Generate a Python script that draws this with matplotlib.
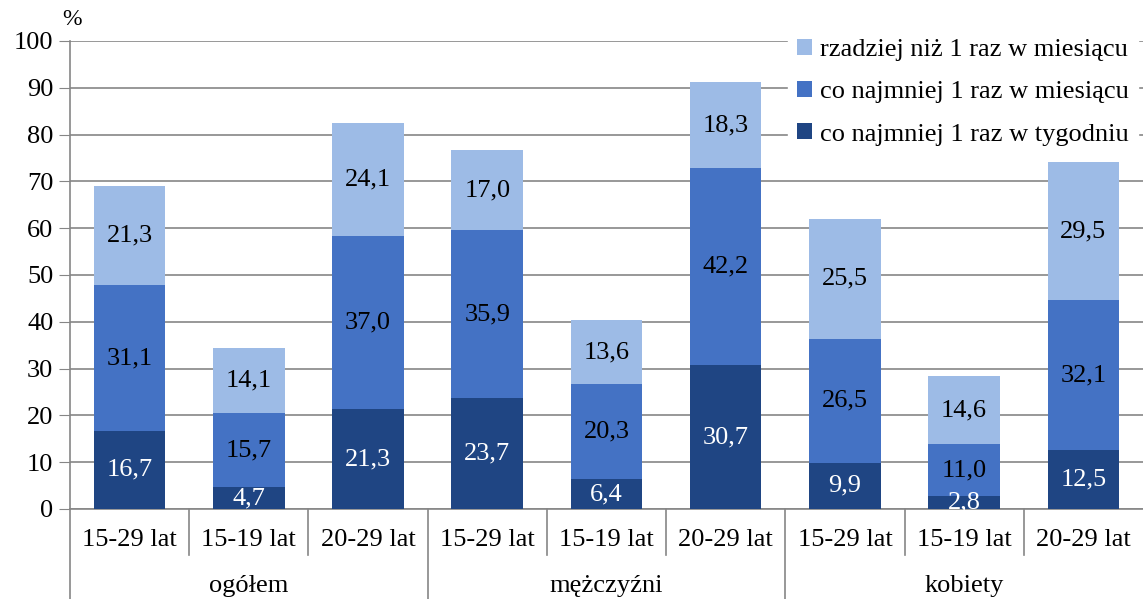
import numpy as np
from matplotlib import pyplot as plt
from matplotlib.transforms import blended_transform_factory

plt.rcParams['font.family'] = ['Liberation Serif', 'DejaVu Serif']

groups = ['ogółem', 'mężczyźni', 'kobiety']
ages = ['15-29 lat', '15-19 lat', '20-29 lat']
weekly = [16.7, 4.7, 21.3, 23.7, 6.4, 30.7, 9.9, 2.8, 12.5]
monthly = [31.1, 15.7, 37.0, 35.9, 20.3, 42.2, 26.5, 11.0, 32.1]
rarely = [21.3, 14.1, 24.1, 17.0, 13.6, 18.3, 25.5, 14.6, 29.5]
series_names = ['co najmniej 1 raz w tygodniu', 'co najmniej 1 raz w miesiącu',
                'rzadziej niż 1 raz w miesiącu']
colors = ['#1f4583', '#4472c4', '#9dbbe6']
label_colors = ['white', 'black', 'black']

fig = plt.figure(figsize=(11.43, 5.99), dpi=100)
ax = fig.add_axes([0.0612, 0.1503, 0.9388, 0.7813])

x = np.arange(9)
bottom = np.zeros(9)
bars = []
for vals, col, lc, name in zip([weekly, monthly, rarely], colors, label_colors, series_names):
    b = ax.bar(x, vals, 0.6, bottom=bottom, color=col, label=name, zorder=3)
    bars.append(b)
    for xi, v, bt in zip(x, vals, bottom):
        ax.text(xi, bt + v / 2, f'{v:.1f}'.replace('.', ','), ha='center', va='center',
                color=lc, fontsize=19, zorder=4)
    bottom = bottom + np.array(vals)

ax.set_xlim(-0.5, 8.5)
ax.set_ylim(0, 100)
ax.set_yticks(range(0, 101, 10))
ax.tick_params(axis='y', labelsize=19, length=8, color='#868686', pad=4)
ax.yaxis.grid(True, color='#868686', linewidth=1.2, zorder=0)
ax.set_xticks([])
for s in ['top', 'right']:
    ax.spines[s].set_visible(False)
ax.spines['left'].set_color('#868686')
ax.spines['bottom'].set_color('#868686')
ax.spines['left'].set_linewidth(1.2)
ax.spines['bottom'].set_linewidth(1.2)

tr = blended_transform_factory(ax.transData, ax.transAxes)
for k in range(9):
    xs = -0.5 + k
    y_end = -0.192 if k % 3 == 0 else -0.098
    ax.plot([xs, xs], [0, y_end], transform=tr, color='#868686', lw=1.2, clip_on=False)
for i in range(9):
    ax.text(i, -0.066, ages[i % 3], transform=tr, ha='center', va='center', fontsize=19)
for g, name in enumerate(groups):
    ax.text(3 * g + 1, -0.165, name, transform=tr, ha='center', va='center', fontsize=19)

ax.text(0.002, 1.045, '%', transform=ax.transAxes, ha='center', va='center', fontsize=17)

handles = [bars[2], bars[1], bars[0]]
leg = ax.legend(handles, [series_names[2], series_names[1], series_names[0]],
                loc='upper right', bbox_to_anchor=(1.0, 1.035), fontsize=19,
                frameon=True, framealpha=1, edgecolor='white', fancybox=False,
                handlelength=0.55, handleheight=0.55, handletextpad=0.3,
                labelspacing=0.75, borderpad=0.35, borderaxespad=0.2)
leg.set_zorder(5)

fig.savefig('out.png', dpi=100)
